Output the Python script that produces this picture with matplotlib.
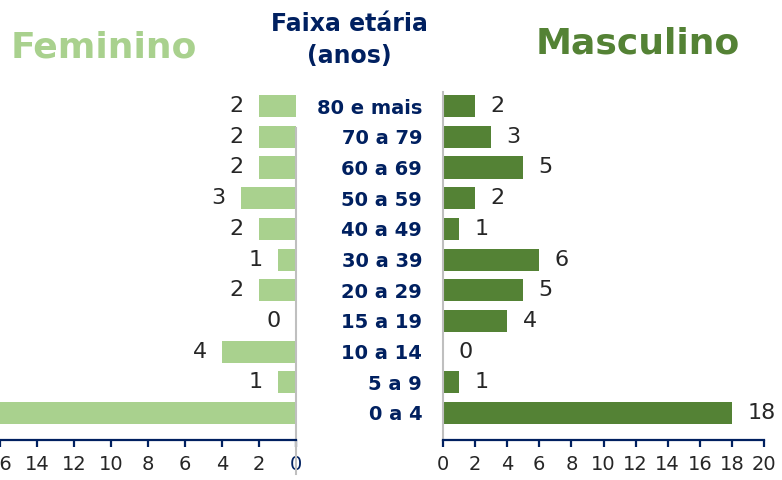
import numpy as np
import matplotlib.pyplot as plt

faixas = ["0 a 4", "5 a 9", "10 a 14", "15 a 19", "20 a 29", "30 a 39",
          "40 a 49", "50 a 59", "60 a 69", "70 a 79", "80 e mais"]
feminino = [17, 1, 4, 0, 2, 1, 2, 3, 2, 2, 2]
masculino = [18, 1, 0, 4, 5, 6, 1, 2, 5, 3, 2]
ticks_fem = [0, 2, 4, 6, 8, 10, 12, 14, 16]
ticks_masc = [0, 2, 4, 6, 8, 10, 12, 14, 16, 18, 20]

verde_claro = "#A9D18E"
verde_escuro = "#548235"
azul = "#002060"
cinza_txt = "#262626"
cinza_linha = "#BFBFBF"

plt.rcParams['font.family'] = ['DejaVu Sans']

W, H = 782, 480
fig = plt.figure(figsize=(W / 100, H / 100), dpi=100)

y = np.arange(len(faixas))
ylim = (-0.88, 10.46)

# painel feminino (barras para a esquerda)
axf = fig.add_axes([0 / W, 40 / H, 296 / W, 348 / H])
axf.barh(y, feminino, height=0.72, color=verde_claro)
axf.set_xlim(15.66, 0)
axf.set_ylim(*ylim)
axf.set_xticks(ticks_fem)
axf.set_yticks([])
for s in ["top", "left", "right"]:
    axf.spines[s].set_visible(False)
axf.spines["bottom"].set_color(azul)
axf.spines["bottom"].set_linewidth(1.6)
axf.tick_params(axis="x", colors=azul, length=5, width=1.6, direction="out",
                labelsize=14, labelcolor=cinza_txt, pad=6)
axf.get_xticklabels()[0].set_color(azul)
axf.plot([0, 0], [-2.0, 9.3], color=cinza_linha, lw=1.5, clip_on=False)
for yi, v in zip(y, feminino):
    axf.annotate(str(v), (v, yi), xytext=(-11, 0), textcoords="offset points",
                 ha="right", va="center", fontsize=16, color=cinza_txt)

# painel masculino
axm = fig.add_axes([443 / W, 40 / H, 321 / W, 348 / H])
axm.barh(y, masculino, height=0.72, color=verde_escuro)
axm.set_xlim(0, 20)
axm.set_ylim(*ylim)
axm.set_xticks(ticks_masc)
axm.set_yticks(y)
axm.set_yticklabels(faixas, fontsize=14, fontweight="bold", color=azul)
axm.tick_params(axis="y", length=0, pad=15)
for s in ["top", "right"]:
    axm.spines[s].set_visible(False)
axm.spines["left"].set_color(cinza_linha)
axm.spines["left"].set_linewidth(1.5)
axm.spines["bottom"].set_color(azul)
axm.spines["bottom"].set_linewidth(1.6)
axm.tick_params(axis="x", colors=azul, length=5, width=1.6, direction="out",
                labelsize=14, labelcolor=cinza_txt, pad=6)
for yi, v in zip(y, masculino):
    axm.annotate(str(v), (v, yi), xytext=(11, 0), textcoords="offset points",
                 ha="left", va="center", fontsize=16, color=cinza_txt)

fig.text(104 / W, 1 - 47 / H, "Feminino", ha="center", va="center",
         fontsize=26, fontweight="bold", color=verde_claro)
fig.text(638 / W, 1 - 43 / H, "Masculino", ha="center", va="center",
         fontsize=26, fontweight="bold", color=verde_escuro)
fig.text(349 / W, 1 - 40 / H, "Faixa etária\n(anos)", ha="center", va="center",
         fontsize=17, fontweight="bold", color=azul, linespacing=1.45)

fig.savefig("out.png", dpi=100)
